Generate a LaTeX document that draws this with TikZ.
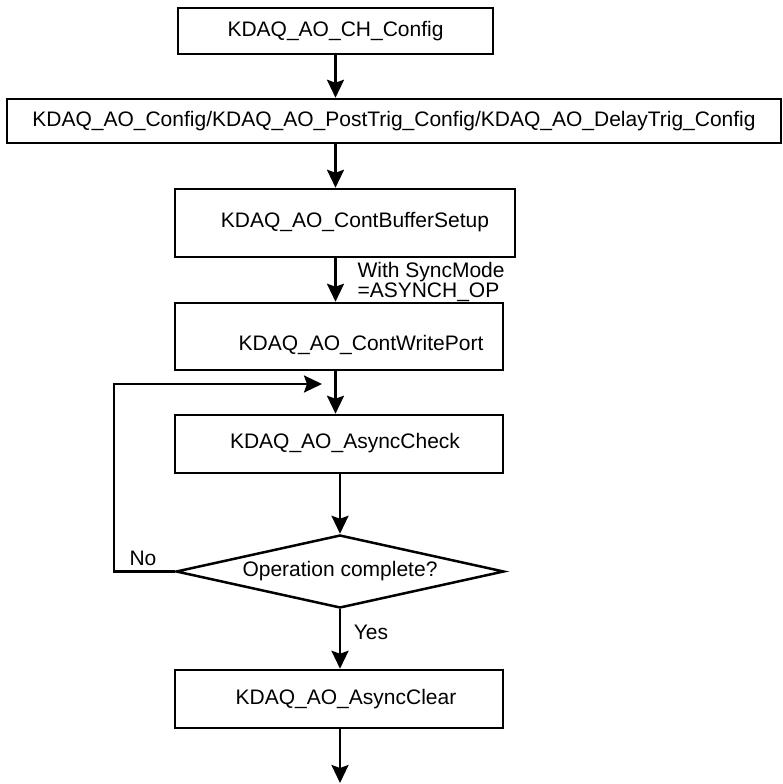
\documentclass[tikz,border=0pt]{standalone}
\usepackage{fontspec}
\setmainfont{Liberation Sans}
\usetikzlibrary{arrows.meta,shapes.geometric}

\begin{document}
\begin{tikzpicture}[x=1pt,y=-1pt,
  box/.style={draw,line width=2.5pt,inner sep=0pt},
  decision/.style={draw,diamond,aspect=4.5,line width=2.5pt,inner sep=0pt},
  flowarrow/.style={line width=2.5pt,-{Stealth[length=18pt,width=17pt,inset=3pt]}},
  every node/.style={font=\fontsize{21}{20}\selectfont}]
  \useasboundingbox (0,0) rectangle (782,784);
  % setup boxes
  \node[box,minimum width=315pt,minimum height=46pt] (ch) at (335.5,31) {KDAQ\_AO\_CH\_Config};
  \node[box,minimum width=774pt,minimum height=44pt] (cfg) at (394,121)
    {KDAQ\_AO\_Config/KDAQ\_AO\_PostTrig\_Config/KDAQ\_AO\_DelayTrig\_Config};
  \node[box,minimum width=340pt,minimum height=68pt] (cbs) at (345,223) {};
  \node (cbstext) at (355,222) {KDAQ\_AO\_ContBufferSetup};
  \node[box,minimum width=328pt,minimum height=67pt] (wp) at (339,336.5) {};
  \node (wptext) at (361,345) {KDAQ\_AO\_ContWritePort};
  % polling loop
  \node[box,minimum width=328pt,minimum height=58pt] (ac) at (339,444) {};
  \node (actext) at (345,443) {KDAQ\_AO\_AsyncCheck};
  \node[decision,minimum width=328pt,minimum height=73pt] (op) at (340,571.5) {Operation complete?};
  \node[box,minimum width=328pt,minimum height=58pt] (clr) at (339,699) {};
  \node (clrtext) at (346,699) {KDAQ\_AO\_AsyncClear};
  % labels
  \node[anchor=west,align=left] (sync) at (354,282) {With SyncMode\\=ASYNCH\_OP};
  \node (no) at (143,558) {No};
  \node (yes) at (371,632) {Yes};
  \coordinate (loopturn) at (114,384);
  \coordinate (loopend) at (322,384);
  \coordinate (done) at (340,783);
  % connectors
  \draw[flowarrow] (ch.south) -- (ch.south |- cfg.north);
  \draw[flowarrow] (ch.south |- cfg.south) -- (ch.south |- cbs.north);
  \draw[flowarrow] (ch.south |- cbs.south) -- (ch.south |- wp.north);
  \draw[flowarrow] (ch.south |- wp.south) -- (ch.south |- ac.north);
  \draw[flowarrow] (op.north |- ac.south) -- (op.north);
  \draw[flowarrow] (op.south) -- (op.south |- clr.north);
  \draw[flowarrow] (op.south |- clr.south) -- (done);
  \draw[flowarrow] (op.west) -| (loopturn) -- (loopend);
\end{tikzpicture}
\end{document}
